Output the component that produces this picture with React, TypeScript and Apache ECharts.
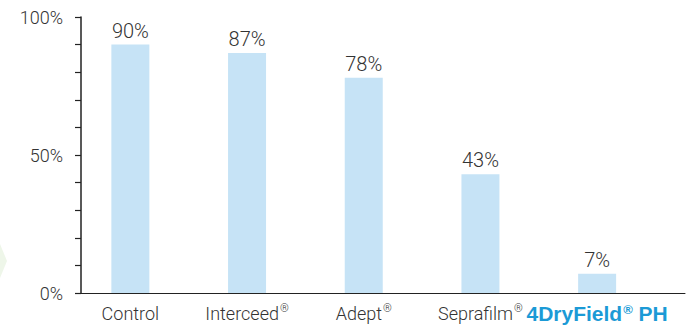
import React, { useEffect, useRef } from "react";
import * as echarts from "echarts";

const categories = ["Control", "Interceed®", "Adept®", "Seprafilm®", "4DryField® PH"];
const values = [90, 87, 78, 43, 7];
const yTickLabels = [0, 50, 100];

const FONT = "Roboto, 'Liberation Sans', Arial, sans-serif";
const BOLD_FONT = "'Liberation Sans', Arial, sans-serif";
const TEXT = "#333333";
const AXIS = "#222222";
const BLUE = "#1b9ad6";
const X_MIN = -0.423;
const X_MAX = 4.753;

function splitMark(s: string, style: string, sup: string) {
  const parts = s.split("®");
  if (parts.length === 1) return `{${style}|${s}}`;
  let out = `{${style}|${parts[0]}}{${sup}|®}`;
  if (parts[1]) out += `{${style}|${parts[1]}}`;
  return out;
}

export default function App() {
  const ref = useRef<HTMLDivElement>(null);
  useEffect(() => {
    if (!ref.current) return;
    const chart = echarts.init(ref.current, undefined, { renderer: "svg" });
    const lastIdx = categories.length - 1;
    chart.setOption({
      animation: false,
      textStyle: { fontFamily: FONT },
      grid: { left: 81, right: 7, top: 17, bottom: 36, containLabel: false },
      xAxis: {
        type: "value",
        min: X_MIN,
        max: X_MAX,
        splitLine: { show: false },
        axisLine: { show: true, onZero: false, lineStyle: { color: AXIS, width: 1 } },
        axisTick: { show: false },
        axisLabel: {
          customValues: categories.map((_, i) => i),
          margin: 10,
          formatter: (v: number) => {
            const i = Math.round(v);
            const s = categories[i] ?? "";
            if (i === lastIdx) return splitMark(s, "b", "bs");
            return splitMark(s, "n", "ns");
          },
          rich: {
            n: { fontSize: 18, color: TEXT, fontWeight: 300, fontFamily: FONT, lineHeight: 20 },
            ns: { fontSize: 11, color: TEXT, fontWeight: 300, fontFamily: FONT, verticalAlign: "top", lineHeight: 20, padding: [0, 0, 8, 1] },
            b: { fontSize: 21, color: BLUE, fontWeight: "bold", fontFamily: BOLD_FONT, lineHeight: 20 },
            bs: { fontSize: 13, color: BLUE, fontWeight: "bold", fontFamily: BOLD_FONT, verticalAlign: "top", lineHeight: 20, padding: [0, 0, 9, 1] },
          },
        },
      },
      yAxis: {
        type: "value",
        position: "left",
        min: 0,
        max: 100,
        interval: 10,
        splitLine: { show: false },
        axisLine: { show: true, onZero: false, lineStyle: { color: AXIS, width: 1.5 } },
        axisTick: { show: true, length: 6, lineStyle: { color: AXIS, width: 1.2 } },
        axisLabel: {
          margin: 18,
          fontSize: 18,
          fontWeight: 300,
          color: TEXT,
          formatter: (v: number) => (yTickLabels.includes(v) ? `${v}%` : ""),
        },
      },
      series: [
        {
          type: "bar",
          barWidth: 38,
          data: values.map((v, i) => [i, v]),
          itemStyle: { color: "#c6e3f6" },
          label: {
            show: true,
            position: "top",
            distance: 4,
            fontSize: 20,
            fontWeight: 300,
            color: TEXT,
            formatter: (p: any) => `${p.value[1]}%`,
          },
        },
      ],
      graphic: [
        {
          type: "polygon",
          shape: { points: [[0, 244], [7, 261], [0, 278]] },
          style: { fill: "#eef6e9" },
          silent: true,
        },
      ],
    });
    return () => chart.dispose();
  }, []);
  return (
    <div
      ref={ref}
      style={{ position: "fixed", left: 0, top: 0, width: 692, height: 329, background: "#fff" }}
    />
  );
}
